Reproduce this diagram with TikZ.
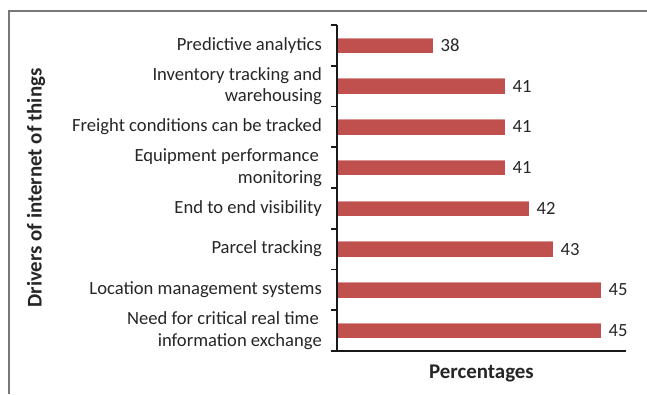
\documentclass[tikz,border=0pt]{standalone}
\usepackage{fontspec}
\setmainfont{Carlito}
\usepackage{xcolor}
\usetikzlibrary{calc,positioning}
\definecolor{barred}{HTML}{C0504D}
\definecolor{barpink}{HTML}{DA9694}
\definecolor{framegray}{HTML}{777777}
\tikzset{
  barfill/.style={fill=barred},
  barlight/.style={draw=barpink, line width=1pt},
  catlabel/.style={anchor=east, inner sep=0pt, align=right, text=black!85,
    font=\fontsize{18.6}{21.7}\selectfont},
  vallabel/.style={anchor=west, inner sep=0pt, xshift=7.5pt, text=black!85,
    font=\fontsize{18.6}{21.7}\selectfont},
  axtitle/.style={inner sep=0pt, text=black!85,
    font=\fontsize{20.9}{24}\selectfont\bfseries},
  axline/.style={line width=1.8pt, black!90}
}
\newcommand\drvbar[4]{% name row value label
  \pgfmathsetmacro\rowy{25+40.75*(#2-0.5)}
  \pgfmathsetmacro\barend{337+24*(#3-34)}
  \fill[barfill] (337,\rowy-7.8) rectangle (\barend,\rowy+7.8);
  \draw[barlight] (337,\rowy-7.3) -- (\barend,\rowy-7.3);
  \coordinate (#1end) at (\barend,\rowy);
  \node[vallabel] (#1val) at (#1end) {#3};
  \node[catlabel] (#1lab) at (322,\rowy) {#4};
}

\begin{document}
\begin{tikzpicture}[x=1pt,y=-1pt]
  \useasboundingbox (0,0) rectangle (647,394);
  \draw[framegray, line width=1.2pt] (647,11) -- (9,11) -- (9,394);
  \drvbar{pred}{1}{38}{Predictive analytics}
  \drvbar{inv}{2}{41}{Inventory tracking and\\warehousing}
  \drvbar{frei}{3}{41}{Freight conditions can be tracked}
  \drvbar{equi}{4}{41}{Equipment performance\hspace*{3pt}\\monitoring}
  \drvbar{e2e}{5}{42}{End to end visibility}
  \drvbar{parc}{6}{43}{Parcel tracking}
  \drvbar{loc}{7}{45}{Location management systems}
  \drvbar{need}{8}{45}{Need for critical real time\hspace*{3pt}\\information exchange}
  % axes
  \coordinate (ytop) at (337,25);
  \coordinate (orig) at (337,351);
  \coordinate (xend) at (626,351);
  \draw[axline] (ytop) -- (orig);
  \draw[axline] (331,351) -- (xend);
  \draw[axline] (331,25) -- (ytop);
  \draw[axline] (331,65.75) -- (337,65.75);
  \draw[axline] (331,106.5) -- (337,106.5);
  \draw[axline] (331,147.25) -- (337,147.25);
  \draw[axline] (331,188) -- (337,188);
  \draw[axline] (331,228.75) -- (337,228.75);
  \draw[axline] (331,269.5) -- (337,269.5);
  \draw[axline] (331,310.25) -- (337,310.25);
  \node[axtitle] (xtitle) at (481.5,373) {Percentages};
  \node[axtitle, rotate=90] (ytitle) at (36,188) {Drivers of internet of things};
\end{tikzpicture}
\end{document}
